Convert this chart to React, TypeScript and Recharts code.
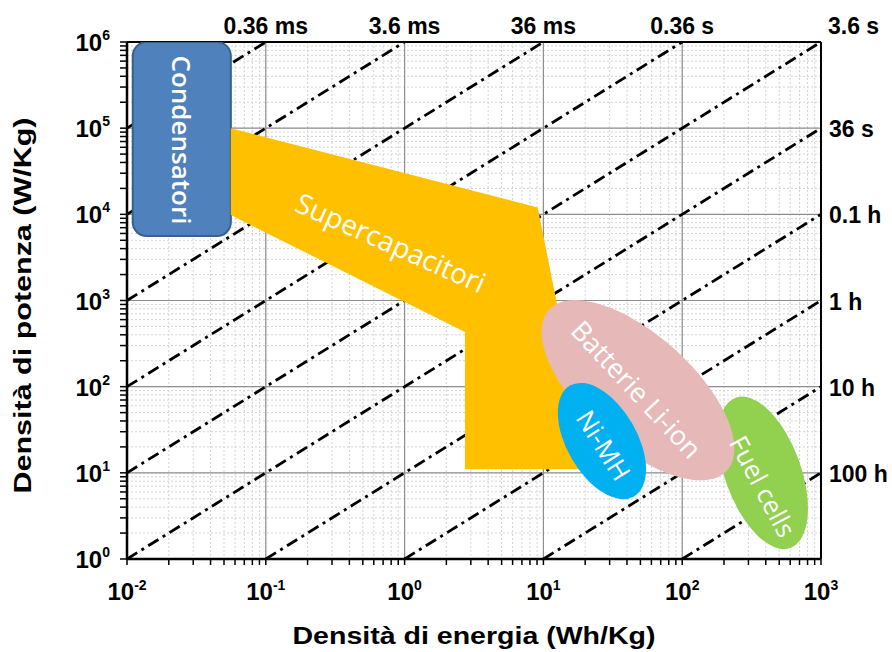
import { ComposedChart, XAxis, YAxis, CartesianGrid, ReferenceLine, ReferenceDot, Scatter, Label } from "recharts";

// decades of the two log axes and the exponents shown as tick labels
const energyDecades = [0.01, 0.1, 1, 10, 100, 1000];
const energyExponents = ["-2", "-1", "0", "1", "2", "3"];
const powerDecades = [1, 10, 100, 1000, 10000, 100000, 1000000];
const powerExponents = ["0", "1", "2", "3", "4", "5", "6"];
const minorSteps = [2, 3, 4, 5, 6, 7, 8, 9];

// constant discharge time lines (hours) and their labels
const dischargeTimes = [1e-7, 1e-6, 1e-5, 1e-4, 1e-3, 1e-2, 1e-1, 1, 10, 100];
const dischargeLabels = ["0.36 ms", "3.6 ms", "36 ms", "0.36 s", "3.6 s", "36 s", "0.1 h", "1 h", "10 h", "100 h"];

// regions (Wh/Kg, W/Kg)
const condensatori = [
  { e: 0.011, p: 1000000 },
  { e: 0.056, p: 5600 },
];
const supercapacitori = [
  { e: 0.056, p: 100000 },
  { e: 9.1, p: 12000 },
  { e: 12.5, p: 930 },
  { e: 18.4, p: 11 },
  { e: 2.72, p: 11 },
  { e: 2.72, p: 430 },
  { e: 0.056, p: 9800 },
];
const ellipseCenters = [
  { name: "Fuel cells", e: 382, p: 10 },
  { name: "Batterie Li-ion", e: 48, p: 91 },
  { name: "Ni-MH", e: 26.4, p: 23.4 },
];
const regionLabels = [
  { name: "Condensatori", e: 0.0249, p: 73000 },
  { name: "Supercapacitori", e: 0.8, p: 4770 },
  { name: "Batterie Li-ion", e: 47.2, p: 94 },
  { name: "Ni-MH", e: 27.3, p: 21 },
  { name: "Fuel cells", e: 382, p: 7 },
];

const E_MIN = 0.01, E_MAX = 1000, P_MIN = 1, P_MAX = 1000000;

const ellipseStyle: Record<string, { rx: number; ry: number; angle: number; fill: string }> = {
  "Batterie Li-ion": { rx: 120, ry: 55, angle: 42, fill: "#E6B9B8" },
  "Ni-MH": { rx: 64, ry: 35, angle: 60, fill: "#00B0F0" },
  "Fuel cells": { rx: 80, ry: 38, angle: 70, fill: "#92D050" },
};
const labelStyle: Record<string, { angle: number; size: number; weight: number }> = {
  Condensatori: { angle: 90, size: 26, weight: 600 },
  Supercapacitori: { angle: 24, size: 28, weight: 400 },
  "Batterie Li-ion": { angle: 47, size: 27, weight: 400 },
  "Ni-MH": { angle: 58, size: 26, weight: 400 },
  "Fuel cells": { angle: 62, size: 26, weight: 400 },
};

const axisFont = "'Liberation Sans', Arial, sans-serif";
const shapeFont = "'Open Sans', 'Noto Sans', sans-serif";

const withMinor = (decades: number[]) => {
  const out: number[] = [];
  decades.forEach((d, i) => {
    out.push(d);
    if (i < decades.length - 1) minorSteps.forEach((m) => out.push(d * m));
  });
  return out;
};
const energyTicks = withMinor(energyDecades);
const powerTicks = withMinor(powerDecades);

// end points of each discharge-time line inside the plot
const timeSegments = dischargeTimes.map((t) => {
  const start = t * P_MIN >= E_MIN ? { x: t * P_MIN, y: P_MIN } : { x: E_MIN, y: E_MIN / t };
  const eEnd = Math.min(E_MAX, P_MAX * t);
  return [start, { x: eEnd, y: eEnd / t }];
});

function EnergyTick({ x, y, payload }: any) {
  const i = energyDecades.indexOf(payload.value);
  if (i < 0) return null;
  return (
    <text x={x} y={y + 33} textAnchor="middle" fontFamily={axisFont} fontWeight="bold" fontSize={24} fill="#000">
      10<tspan dy={-10} fontSize={14}>{energyExponents[i]}</tspan>
    </text>
  );
}

function PowerTick({ x, y, payload }: any) {
  const i = powerDecades.indexOf(payload.value);
  if (i < 0) return null;
  return (
    <text x={x - 8} y={y + 9} textAnchor="end" fontFamily={axisFont} fontWeight="bold" fontSize={24} fill="#000">
      10<tspan dy={-11} fontSize={14}>{powerExponents[i]}</tspan>
    </text>
  );
}

const timeLabel = (name: string, e: number, p: number) => (props: any) => {
  const { cx, cy } = props;
  const onTop = Math.abs(Math.log10(p / P_MAX)) < 1e-6;
  const onRight = Math.abs(Math.log10(e / E_MAX)) < 1e-6;
  let x = cx, y = cy - 8, anchor = "middle";
  if (onTop && onRight) { x = cx + 7; anchor = "start"; }
  else if (onRight) { x = cx + 8; y = cy + 9; anchor = "start"; }
  return (
    <text x={x} y={y} textAnchor={anchor} fontFamily={axisFont} fontWeight="bold" fontSize={23} fill="#000">
      {name}
    </text>
  );
};

function RegionText({ cx, cy, payload }: any) {
  const s = labelStyle[payload.name];
  return (
    <text x={cx} y={cy} textAnchor="middle" dominantBaseline="central" transform={`rotate(${s.angle} ${cx} ${cy})`}
      fontFamily={shapeFont} fontSize={s.size} fontWeight={s.weight} fill="#fff">
      {payload.name}
    </text>
  );
}

function RegionEllipse({ cx, cy, payload }: any) {
  const s = ellipseStyle[payload.name];
  return <ellipse cx={cx} cy={cy} rx={s.rx} ry={s.ry} fill={s.fill} transform={`rotate(${s.angle} ${cx} ${cy})`} />;
}

const noPoint = () => <g />;

export default function App() {
  return (
    <div style={{ position: "absolute", left: 0, top: 0 }}>
      <ComposedChart width={892} height={652} margin={{ top: 42, right: 71, bottom: 0, left: 0 }}>
        <CartesianGrid stroke="#d4d4d4" strokeDasharray="2 2" strokeWidth={1} />
        <XAxis dataKey="e" type="number" scale="log" domain={[E_MIN, E_MAX]} allowDataOverflow ticks={energyTicks}
          interval={0} height={93} tick={<EnergyTick />} tickSize={6}
          axisLine={{ stroke: "#000", strokeWidth: 2.5 }} tickLine={{ stroke: "#000", strokeWidth: 1.5 }}>
          <Label content={({ viewBox }: any) => (
            <text x={viewBox.x + viewBox.width / 2} y={viewBox.y + 85} textAnchor="middle" fontFamily={axisFont}
              fontWeight="bold" fontSize={23} textLength={363} lengthAdjust="spacingAndGlyphs" fill="#000">
              Densità di energia (Wh/Kg)
            </text>
          )} />
        </XAxis>
        <YAxis dataKey="p" type="number" scale="log" domain={[P_MIN, P_MAX]} allowDataOverflow ticks={powerTicks}
          interval={0} width={127} tick={<PowerTick />} tickSize={7}
          axisLine={{ stroke: "#000", strokeWidth: 2.5 }} tickLine={{ stroke: "#000", strokeWidth: 1.5 }}>
          <Label content={({ viewBox }: any) => {
            const cy = viewBox.y + viewBox.height / 2 + 5;
            return (
              <text x={31} y={cy} textAnchor="middle" transform={`rotate(-90 31 ${cy})`} fontFamily={axisFont}
                fontWeight="bold" fontSize={23} textLength={376} lengthAdjust="spacingAndGlyphs" fill="#000">
                Densità di potenza (W/Kg)
              </text>
            );
          }} />
        </YAxis>

        {energyDecades.slice(1, -1).map((v) => (
          <ReferenceLine key={`vx${v}`} x={v} stroke="#8f8f8f" strokeWidth={1.2} zIndex={50} />
        ))}
        {powerDecades.slice(1, -1).map((v) => (
          <ReferenceLine key={`hy${v}`} y={v} stroke="#8f8f8f" strokeWidth={1.2} zIndex={50} />
        ))}
        <ReferenceLine y={P_MAX} stroke="#000" strokeWidth={2} zIndex={60} />
        <ReferenceLine x={E_MAX} stroke="#000" strokeWidth={2} zIndex={60} />

        {timeSegments.map((seg, i) => (
          <ReferenceLine key={`t${i}`} segment={seg} stroke="#000" strokeWidth={2.8} strokeDasharray="12 5 3 5"
            ifOverflow="visible" zIndex={70} />
        ))}

        <Scatter name="Condensatori" data={condensatori} dataKey="p" isAnimationActive={false} shape={noPoint} zIndex={600}
          line={(props: any) => {
            const [a, b] = props.points;
            return (
              <rect x={a.x} y={a.y} width={b.x - a.x} height={b.y - a.y} rx={14} ry={14}
                fill="#4F81BD" stroke="#3A5F8B" strokeWidth={2} />
            );
          }} />
        <Scatter name="Supercapacitori" data={supercapacitori} dataKey="p" isAnimationActive={false} shape={noPoint} zIndex={600}
          line={(props: any) => (
            <polygon points={props.points.map((pt: any) => `${pt.x},${pt.y}`).join(" ")} fill="#FFC000" stroke="none" />
          )} />
        <Scatter name="Ellissi" data={ellipseCenters} dataKey="p" isAnimationActive={false} shape={<RegionEllipse />} zIndex={610} />
        <Scatter name="Etichette" data={regionLabels} dataKey="p" isAnimationActive={false} shape={<RegionText />} zIndex={620} />

        {timeSegments.map((seg, i) => (
          <ReferenceDot key={`lbl${i}`} x={seg[1].x} y={seg[1].y} r={0} ifOverflow="visible" zIndex={700}
            shape={timeLabel(dischargeLabels[i], seg[1].x, seg[1].y)} />
        ))}
      </ComposedChart>
    </div>
  );
}
